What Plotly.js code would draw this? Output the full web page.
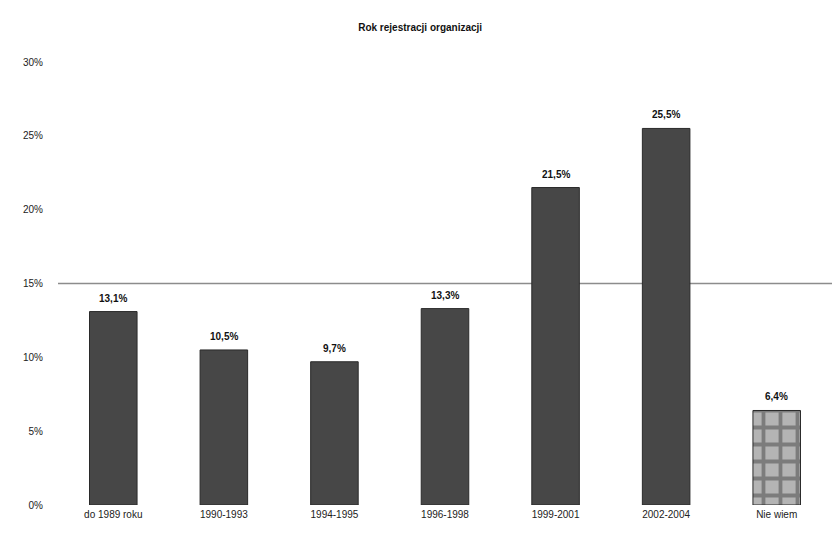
<!DOCTYPE html>
<html>
<head>
<meta charset="utf-8">
<script src="https://cdn.plot.ly/plotly-3.0.1.min.js"></script>
<style>
  html, body { margin: 0; padding: 0; background: #ffffff; }
  #chart { width: 832px; height: 537px; }
</style>
</head>
<body>
<div id="chart"></div>
<script>
// Rok rejestracji organizacji – odsetek organizacji
const categories = ["do 1989 roku", "1990-1993", "1994-1995", "1996-1998", "1999-2001", "2002-2004", "Nie wiem"];
const shares = [13.1, 10.5, 9.7, 13.3, 21.5, 25.5, 6.4];
const yTicks = [0, 5, 10, 15, 20, 25, 30];

const last = categories.length - 1;
const barColors = categories.map((c, i) => i === last ? "#b4b4b4" : "#474747");
const barPatterns = categories.map((c, i) => i === last ? "+" : "");

const fontFamily = "Liberation Sans, Arial, sans-serif";

const trace = {
  type: "bar",
  x: categories,
  y: shares,
  width: 0.43,
  marker: {
    color: barColors,
    line: { color: "#2a2a2a", width: 1 },
    pattern: {
      shape: barPatterns,
      fillmode: "overlay",
      fgcolor: "#666666",
      size: 17,
      solidity: 0.4
    }
  },
  hoverinfo: "skip"
};

// value labels above each bar, with a comma as the decimal mark
const valueLabels = categories.map((c, i) => ({
  x: c,
  y: shares[i],
  xref: "x",
  yref: "y",
  text: "<b>" + shares[i].toFixed(1).replace(".", ",") + "%</b>",
  showarrow: false,
  yanchor: "bottom",
  yshift: 6,
  font: { family: fontFamily, size: 10, color: "#111111" }
}));

const layout = {
  width: 832,
  height: 537,
  margin: { l: 58, r: 0, t: 62, b: 32 },
  paper_bgcolor: "#ffffff",
  plot_bgcolor: "#ffffff",
  showlegend: false,
  title: {
    text: "<b>Rok rejestracji organizacji</b>",
    x: 0.505,
    xanchor: "center",
    y: 0.948,
    yanchor: "middle",
    font: { family: fontFamily, size: 10, color: "#111111" }
  },
  xaxis: {
    type: "category",
    range: [-0.5, 6.5],
    showgrid: false,
    showline: false,
    zeroline: false,
    ticks: "",
    tickfont: { family: fontFamily, size: 10, color: "#222222" },
    ticklabelstandoff: 2
  },
  yaxis: {
    range: [0, 30],
    tickvals: yTicks,
    ticktext: yTicks.map(v => v + "%"),
    showgrid: false,
    zeroline: false,
    showline: false,
    ticks: "",
    tickfont: { family: fontFamily, size: 10, color: "#222222" },
    ticklabelstandoff: 14
  },
  annotations: valueLabels,
  shapes: [
    {
      type: "line",
      xref: "paper",
      yref: "y",
      x0: 0,
      x1: 1,
      y0: 15,
      y1: 15,
      line: { color: "#8c8c8c", width: 1.5 },
      layer: "below"
    }
  ]
};

Plotly.newPlot("chart", [trace], layout, { staticPlot: true, displayModeBar: false });
</script>
</body>
</html>
